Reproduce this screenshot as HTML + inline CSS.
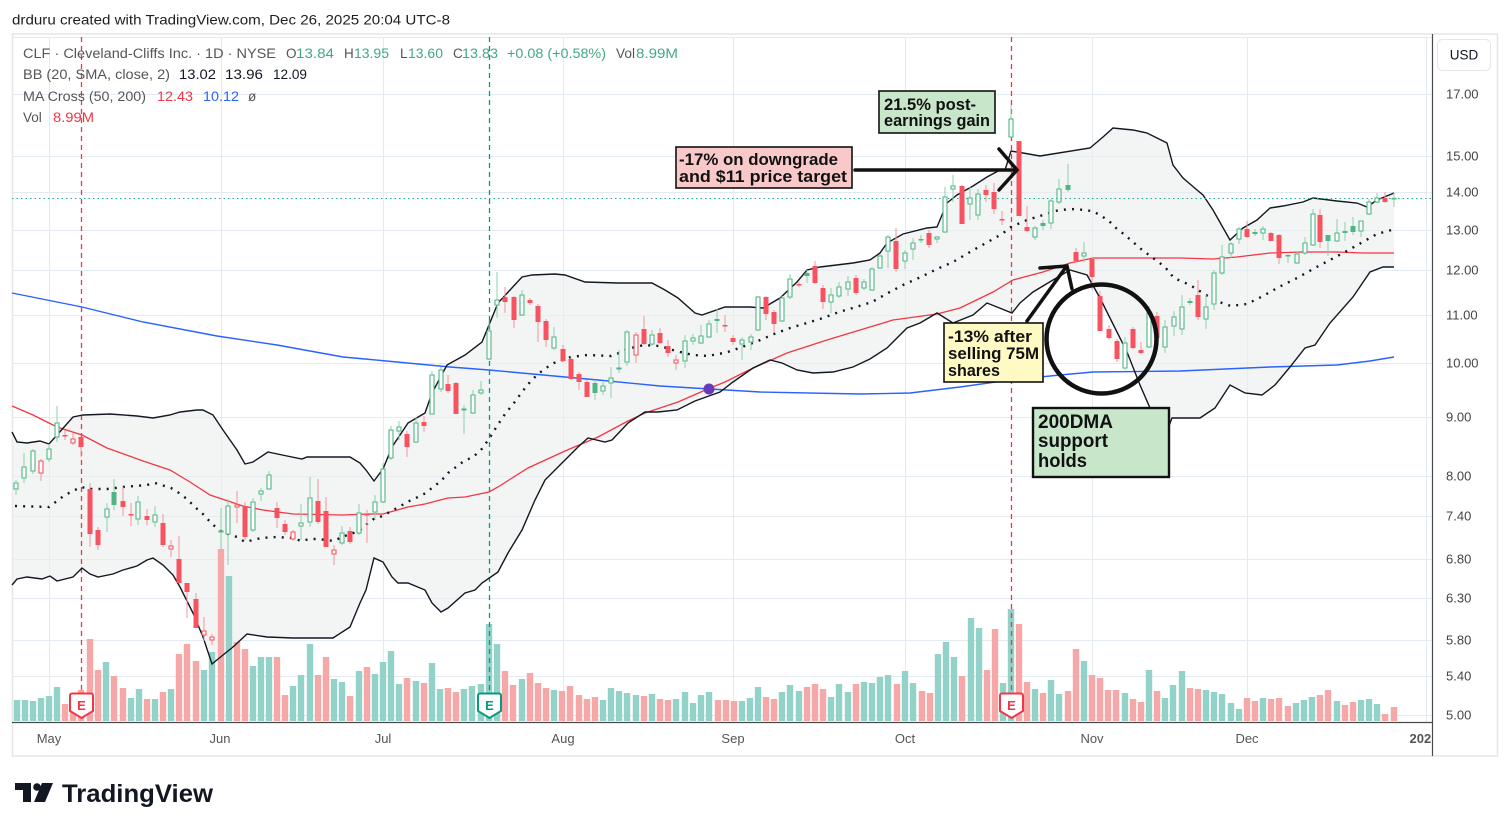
<!DOCTYPE html>
<html><head><meta charset="utf-8"><style>
html,body{margin:0;padding:0;background:#fff;width:1510px;height:831px;overflow:hidden}
svg{display:block}
text{font-family:"Liberation Sans",Arial,sans-serif}
</style></head><body>
<svg width="1510" height="831" viewBox="0 0 1510 831" xmlns="http://www.w3.org/2000/svg">
<defs><clipPath id="tc"><rect x="0" y="722" width="1431" height="40"/></clipPath></defs>
<rect x="0" y="0" width="1510" height="831" fill="#fff"/>
<!-- frame -->
<rect x="12.5" y="34" width="1485" height="722" fill="none" stroke="#e6e6e6" stroke-width="1.5"/>
<!-- grid -->
<g stroke="#e3eaf1" stroke-width="1">
<path d="M12 37.5H1432M12 94.5H1432M12 156.5H1432M12 192.5H1432M12 230.5H1432M12 270.5H1432M12 315.5H1432M12 363.5H1432M12 417.5H1432M12 476.5H1432M12 516.5H1432M12 559.5H1432M12 598.5H1432M12 640.5H1432M12 676.5H1432M12 715.5H1432"/>
<path d="M49.5 37V722M221.5 37V722M383.5 37V722M563.5 37V722M733.5 37V722M905.5 37V722M1092.5 37V722M1247.5 37V722M1426.5 37V722"/>
</g>
<!-- BB fill -->
<polygon fill="#e9eded" fill-opacity="0.55" points="12,432 17,442 27,443 40,441 49,444 57,435 73,417 83,415 110,414 137,416 153,418 170,415 180,412 197,410 203,410 213,415 223,430 237,450 245,464 253,462 268,452 287,456 302,459 307,457 350,457 360,463 366,470 374,481 383,469 392,447 408,423 425,413 432,393 447,365 465,355 482,342 498,303 522,277 532,275 555,274 565,275 585,282 618,283 652,283 665,290 678,298 695,313 702,315 725,307 750,307 763,308 780,298 797,282 807,270 820,267 853,263 870,260 880,253 887,243 903,234 927,228 937,227 947,203 957,195 973,186 987,177 1000,170 1005,170 1011,151 1023,153 1040,156 1090,148 1103,137 1113,128 1133,130 1147,133 1167,143 1173,165 1183,178 1197,190 1203,195 1213,210 1230,240 1243,228 1257,220 1270,208 1283,206 1303,202 1313,198 1337,201 1357,203 1367,207 1377,200 1394,193 1394,267 1383,267 1370,272 1353,297 1330,323 1315,345 1305,348 1290,367 1275,385 1262,395 1245,393 1230,385 1215,408 1200,418 1172,418 1167,431 1150,408 1140,385 1127,352 1100,298 1087,275 1070,270 1053,280 1033,292 1020,303 1012,313 997,307 987,303 973,315 953,323 937,313 920,323 907,328 887,348 870,359 853,367 833,372 813,373 797,370 782,363 770,360 753,368 733,382 720,392 695,401 677,410 658,412 645,412 628,423 612,440 605,442 588,438 578,447 565,460 545,480 535,500 522,530 508,553 498,572 482,583 475,590 465,593 448,608 441,612 432,603 425,590 408,583 398,583 392,577 383,562 374,558 366,590 360,603 350,627 333,638 293,638 267,637 247,634 233,647 223,655 212,664 203,637 193,613 180,587 173,575 163,565 153,558 147,560 137,566 123,570 113,574 98,577 90,574 82,568 73,577 57,581 50,576 42,579 27,577 17,579 12,585"/>
<!-- volume -->
<path fill="#92d2c9" d="M13.8 700h6.4V721h-6.4zM21.8 700h6.4V721h-6.4zM29.8 701h6.4V721h-6.4zM37.8 698h6.4V721h-6.4zM45.8 696h6.4V721h-6.4zM53.8 687h6.4V721h-6.4zM102.8 662h6.4V721h-6.4zM127.8 698h6.4V721h-6.4zM135.8 689h6.4V721h-6.4zM151.8 699h6.4V721h-6.4zM167.8 689h6.4V721h-6.4zM200.8 670h6.4V721h-6.4zM208.8 652h6.4V721h-6.4zM225.8 576h6.4V721h-6.4zM249.8 666h6.4V721h-6.4zM257.8 657h6.4V721h-6.4zM265.8 657h6.4V721h-6.4zM289.8 686h6.4V721h-6.4zM297.8 675h6.4V721h-6.4zM306.8 644h6.4V721h-6.4zM330.8 679h6.4V721h-6.4zM338.8 682h6.4V721h-6.4zM355.8 671h6.4V721h-6.4zM371.8 674h6.4V721h-6.4zM379.8 662h6.4V721h-6.4zM387.8 651h6.4V721h-6.4zM395.8 684h6.4V721h-6.4zM412.8 681h6.4V721h-6.4zM428.8 663h6.4V721h-6.4zM436.8 689h6.4V721h-6.4zM460.8 689h6.4V721h-6.4zM468.8 686h6.4V721h-6.4zM477.8 684h6.4V721h-6.4zM485.8 624h6.4V721h-6.4zM493.8 644h6.4V721h-6.4zM518.8 679h6.4V721h-6.4zM550.8 690h6.4V721h-6.4zM599.8 700h6.4V721h-6.4zM607.8 688h6.4V721h-6.4zM615.8 691h6.4V721h-6.4zM623.8 693h6.4V721h-6.4zM632.8 695h6.4V721h-6.4zM648.8 694h6.4V721h-6.4zM672.8 699h6.4V721h-6.4zM681.8 692h6.4V721h-6.4zM689.8 703h6.4V721h-6.4zM697.8 695h6.4V721h-6.4zM705.8 692h6.4V721h-6.4zM738.8 701h6.4V721h-6.4zM746.8 698h6.4V721h-6.4zM754.8 687h6.4V721h-6.4zM778.8 692h6.4V721h-6.4zM786.8 685h6.4V721h-6.4zM795.8 691h6.4V721h-6.4zM827.8 697h6.4V721h-6.4zM835.8 684h6.4V721h-6.4zM844.8 692h6.4V721h-6.4zM860.8 682h6.4V721h-6.4zM868.8 683h6.4V721h-6.4zM876.8 677h6.4V721h-6.4zM884.8 675h6.4V721h-6.4zM901.8 671h6.4V721h-6.4zM909.8 683h6.4V721h-6.4zM934.8 654h6.4V721h-6.4zM942.8 642h6.4V721h-6.4zM950.8 657h6.4V721h-6.4zM967.8 618h6.4V721h-6.4zM975.8 628h6.4V721h-6.4zM999.8 683h6.4V721h-6.4zM1007.8 609h6.4V721h-6.4zM1031.8 689h6.4V721h-6.4zM1047.8 680h6.4V721h-6.4zM1055.8 694h6.4V721h-6.4zM1080.8 661h6.4V721h-6.4zM1121.8 693h6.4V721h-6.4zM1145.8 670h6.4V721h-6.4zM1161.8 698h6.4V721h-6.4zM1169.8 685h6.4V721h-6.4zM1178.8 671h6.4V721h-6.4zM1202.8 690h6.4V721h-6.4zM1210.8 692h6.4V721h-6.4zM1218.8 694h6.4V721h-6.4zM1227.8 703h6.4V721h-6.4zM1235.8 709h6.4V721h-6.4zM1259.8 698h6.4V721h-6.4zM1292.8 703h6.4V721h-6.4zM1300.8 700h6.4V721h-6.4zM1308.8 697h6.4V721h-6.4zM1333.8 701h6.4V721h-6.4zM1357.8 700h6.4V721h-6.4zM1365.8 699h6.4V721h-6.4zM1373.8 704h6.4V721h-6.4z"/>
<path fill="#f6a8a8" d="M61.8 704h6.4V721h-6.4zM69.8 700h6.4V721h-6.4zM77.8 690h6.4V721h-6.4zM86.8 639h6.4V721h-6.4zM94.8 670h6.4V721h-6.4zM110.8 676h6.4V721h-6.4zM119.8 688h6.4V721h-6.4zM143.8 699h6.4V721h-6.4zM159.8 692h6.4V721h-6.4zM175.8 654h6.4V721h-6.4zM183.8 644h6.4V721h-6.4zM192.8 661h6.4V721h-6.4zM217.8 549h6.4V721h-6.4zM233.8 642h6.4V721h-6.4zM241.8 649h6.4V721h-6.4zM273.8 657h6.4V721h-6.4zM281.8 695h6.4V721h-6.4zM314.8 675h6.4V721h-6.4zM322.8 657h6.4V721h-6.4zM346.8 696h6.4V721h-6.4zM363.8 667h6.4V721h-6.4zM403.8 678h6.4V721h-6.4zM420.8 683h6.4V721h-6.4zM444.8 688h6.4V721h-6.4zM452.8 692h6.4V721h-6.4zM501.8 671h6.4V721h-6.4zM509.8 685h6.4V721h-6.4zM526.8 673h6.4V721h-6.4zM534.8 683h6.4V721h-6.4zM542.8 688h6.4V721h-6.4zM558.8 691h6.4V721h-6.4zM566.8 686h6.4V721h-6.4zM575.8 695h6.4V721h-6.4zM583.8 699h6.4V721h-6.4zM591.8 697h6.4V721h-6.4zM640.8 696h6.4V721h-6.4zM656.8 699h6.4V721h-6.4zM664.8 700h6.4V721h-6.4zM714.8 700h6.4V721h-6.4zM722.8 700h6.4V721h-6.4zM730.8 701h6.4V721h-6.4zM762.8 697h6.4V721h-6.4zM770.8 699h6.4V721h-6.4zM803.8 687h6.4V721h-6.4zM811.8 684h6.4V721h-6.4zM819.8 689h6.4V721h-6.4zM852.8 684h6.4V721h-6.4zM893.8 684h6.4V721h-6.4zM918.8 691h6.4V721h-6.4zM926.8 693h6.4V721h-6.4zM958.8 676h6.4V721h-6.4zM983.8 670h6.4V721h-6.4zM991.8 629h6.4V721h-6.4zM1015.8 624h6.4V721h-6.4zM1023.8 682h6.4V721h-6.4zM1039.8 693h6.4V721h-6.4zM1064.8 691h6.4V721h-6.4zM1072.8 649h6.4V721h-6.4zM1088.8 675h6.4V721h-6.4zM1096.8 678h6.4V721h-6.4zM1104.8 690h6.4V721h-6.4zM1112.8 690h6.4V721h-6.4zM1129.8 699h6.4V721h-6.4zM1137.8 702h6.4V721h-6.4zM1153.8 691h6.4V721h-6.4zM1186.8 688h6.4V721h-6.4zM1194.8 689h6.4V721h-6.4zM1243.8 698h6.4V721h-6.4zM1251.8 701h6.4V721h-6.4zM1267.8 699h6.4V721h-6.4zM1275.8 698h6.4V721h-6.4zM1284.8 706h6.4V721h-6.4zM1316.8 695h6.4V721h-6.4zM1324.8 690h6.4V721h-6.4zM1341.8 705h6.4V721h-6.4zM1349.8 702h6.4V721h-6.4zM1381.8 714h6.4V721h-6.4zM1390.8 707h6.4V721h-6.4z"/>
<!-- earnings dashed lines -->
<path d="M81.5 37V693" stroke="#f23645" stroke-width="1.3" stroke-dasharray="5 4"/>
<path d="M489.5 37V693" stroke="#089981" stroke-width="1.3" stroke-dasharray="5 4"/>
<path d="M1011.5 37V693" stroke="#f23645" stroke-width="1.3" stroke-dasharray="5 4"/>
<!-- MAs -->
<polyline fill="none" stroke="#2962ff" stroke-width="1.4" points="12,293 82,307 143,322 217,336 277,345 343,357 365,359 450,367 489,370 565,377 598,380 660,386 710,389 760,392 860,394 910,393 960,387 1010,380 1060,375 1093,372 1180,371 1203,370 1270,367 1337,365 1370,361 1394,357"/>
<polyline fill="none" stroke="#f23645" stroke-width="1.3" points="12,406 33,415 57,427 82,435 107,448 143,461 170,470 190,482 210,495 243,506 263,510 293,514 343,515 368,514 383,514 408,507 425,504 448,498 465,497 489,492 498,487 528,468 565,451 598,437 628,421 645,413 660,408 678,402 710,388 725,382 747,371 760,365 787,353 827,340 860,330 893,320 937,314 960,308 993,292 1013,280 1043,272 1070,263 1093,258 1180,258 1213,259 1237,257 1270,253 1303,252 1337,252 1363,253 1394,253"/>
<polyline fill="none" stroke="#131722" stroke-width="1.4" points="12,432 17,442 27,443 40,441 49,444 57,435 73,417 83,415 110,414 137,416 153,418 170,415 180,412 197,410 203,410 213,415 223,430 237,450 245,464 253,462 268,452 287,456 302,459 307,457 350,457 360,463 366,470 374,481 383,469 392,447 408,423 425,413 432,393 447,365 465,355 482,342 498,303 522,277 532,275 555,274 565,275 585,282 618,283 652,283 665,290 678,298 695,313 702,315 725,307 750,307 763,308 780,298 797,282 807,270 820,267 853,263 870,260 880,253 887,243 903,234 927,228 937,227 947,203 957,195 973,186 987,177 1000,170 1005,170 1011,151 1023,153 1040,156 1090,148 1103,137 1113,128 1133,130 1147,133 1167,143 1173,165 1183,178 1197,190 1203,195 1213,210 1230,240 1243,228 1257,220 1270,208 1283,206 1303,202 1313,198 1337,201 1357,203 1367,207 1377,200 1394,193"/>
<polyline fill="none" stroke="#131722" stroke-width="1.4" points="12,585 17,579 27,577 42,579 50,576 57,581 73,577 82,568 90,574 98,577 113,574 123,570 137,566 147,560 153,558 163,565 173,575 180,587 193,613 203,637 212,664 223,655 233,647 247,634 267,637 293,638 333,638 350,627 360,603 366,590 374,558 383,562 392,577 398,583 408,583 425,590 432,603 441,612 448,608 465,593 475,590 482,583 498,572 508,553 522,530 535,500 545,480 565,460 578,447 588,438 605,442 612,440 628,423 645,412 658,412 677,410 695,401 720,392 733,382 753,368 770,360 782,363 797,370 813,373 833,372 853,367 870,359 887,348 907,328 920,323 937,313 953,323 973,315 987,303 997,307 1012,313 1020,303 1033,292 1053,280 1070,270 1087,275 1100,298 1127,352 1140,385 1150,408 1167,431 1172,418 1200,418 1215,408 1230,385 1245,393 1262,395 1275,385 1290,367 1305,348 1315,345 1330,323 1353,297 1370,272 1383,267 1394,267"/>
<polyline fill="none" stroke="#131722" stroke-width="2.4" stroke-dasharray="2 6.15" points="15,506 49,507 57,501 65,495 73,491 81,487 90,489 107,489 123,487 147,485 155,483 171,488 179,493 187,499 196,508 204,515 212,524 221,531 228,534 237,537 245,542 261,538 277,537 293,538 301,541 310,539 318,539 334,541 342,537 359,531 367,524 375,518 383,516 391,511 399,507 407,502 416,498 424,494 432,488 441,481 448,473 456,467 464,461 473,457 481,450 489,439 497,426 505,414 514,403 522,392 530,382 538,374 546,368 554,363 571,357 587,355 611,356 619,353 627,349 644,345 660,346 676,351 693,355 709,356 717,354 725,353 742,347 758,341 774,334 790,328 807,323 823,318 839,312 856,307 872,302 888,293 905,284 921,277 937,269 953,262 970,252 986,243 1002,234 1011,227 1027,220 1043,215 1059,210 1076,209 1092,211 1100,215 1109,221 1117,229 1125,235 1133,242 1141,249 1149,255 1157,261 1165,267 1174,278 1190,285 1206,295 1222,303 1231,306 1247,304 1263,296 1279,287 1297,278 1313,269 1328,261 1345,252 1361,243 1377,234 1395,229"/>
<!-- current price line -->
<path d="M12 198.5H1432" stroke="#22ab94" stroke-width="1" stroke-dasharray="1.5 3"/>
<!-- wicks -->
<path fill="none" stroke="#8fd0ad" stroke-width="1" d="M16 480V495M24 453V483M33 449V474M49 444V462M57 406V442M107 503V532M114 479V510M138 496V525M155 506V527M221 508V550M228 499V565M253 498V532M261 488V501M269 471V490M301 504V540M310 477V527M342 526V545M359 504V535M375 495V520M383 463V503M391 426V460M399 421V440M416 417V443M432 371V414M441 367V392M464 405V434M473 390V414M481 381V395M489 320V360M497 272V318M522 290V316M554 327V350M595 380V400M603 382V395M611 367V398M619 350V373M627 330V366M652 330V346M685 335V368M693 334V345M701 325V344M709 320V338M717 309V333M742 337V360M751 334V350M758 296V331M782 296V322M790 274V299M807 270V283M831 288V313M839 282V298M848 276V296M864 279V290M872 267V291M880 254V269M888 235V268M905 250V269M913 238V260M921 235V243M937 236V243M945 187V233M953 175V202M970 187V220M978 189V220M1011 105V138M1035 226V240M1043 220V230M1051 199V229M1059 179V204M1068 164V192M1084 242V262M1125 337V370M1149 306V348M1165 320V353M1174 311V336M1182 295V335M1190 298V305M1206 295V329M1214 270V310M1222 245V275M1231 242V258M1239 227V244M1255 229V236M1263 226V240M1288 254V263M1297 252V264M1305 237V255M1313 209V246M1328 235V256M1337 219V242M1345 222V241M1353 217V235M1361 221V237M1369 199V215M1377 193V203M1394 193V207"/>
<path fill="none" stroke="#f5949c" stroke-width="1" d="M41 459V481M65 430V440M73 433V445M81 436V457M90 483V547M98 527V550M123 487V516M131 503V526M147 509V525M163 514V547M171 540V557M179 536V583M187 583V618M196 593V628M204 617V641M212 634V645M237 491V523M245 502V540M277 502V528M285 520V535M293 530V541M318 479V524M326 497V547M334 545V565M350 527V544M367 510V543M407 431V457M424 416V432M448 375V393M456 382V414M505 287V313M514 296V328M530 298V305M538 304V342M546 319V347M563 345V362M571 357V380M579 372V390M587 380V397M636 332V363M644 316V345M660 328V344M668 340V357M676 355V370M725 315V332M733 335V345M766 296V320M774 310V332M799 282V287M815 261V284M823 285V309M856 275V295M896 228V272M929 230V248M962 185V224M986 185V202M994 183V214M1002 211V225M1019 141V216M1027 206V232M1076 248V263M1092 258V290M1100 291V331M1109 325V340M1117 339V362M1133 327V349M1141 342V354M1157 312V344M1198 280V320M1247 221V238M1271 232V241M1279 234V264M1320 209V248M1385 192V203"/>
<!-- green hollow bodies -->
<path fill="#fff" stroke="#4fb584" stroke-width="1.1" d="M14,483h4v6h-4zM22,467h4v11h-4zM31,451h4v20h-4zM47,449h4v10h-4zM55,423h4v14h-4zM105,509h4v8h-4zM136,502h4v17h-4zM153,515h4v7h-4zM219,531h4v1h-4zM226,506h4v28h-4zM251,502h4v28h-4zM259,491h4v3h-4zM267,475h4v14h-4zM299,523h4v3h-4zM308,498h4v24h-4zM340,533h4v10h-4zM357,513h4v20h-4zM373,502h4v10h-4zM381,469h4v33h-4zM389,430h4v28h-4zM397,427h4v4h-4zM414,423h4v19h-4zM430,375h4v39h-4zM439,370h4v19h-4zM462,409h4v1h-4zM471,395h4v18h-4zM479,390h4v3h-4zM487,331h4v28h-4zM495,300h4v5h-4zM520,295h4v20h-4zM552,337h4v11h-4zM601,386h4v5h-4zM609,378h4v5h-4zM617,368h4v1h-4zM625,332h4v30h-4zM650,335h4v9h-4zM683,341h4v20h-4zM691,338h4v3h-4zM699,336h4v7h-4zM707,324h4v13h-4zM740,340h4v4h-4zM749,337h4v5h-4zM756,297h4v33h-4zM780,298h4v23h-4zM788,279h4v18h-4zM829,295h4v7h-4zM837,287h4v9h-4zM846,282h4v7h-4zM862,282h4v6h-4zM870,269h4v21h-4zM878,256h4v12h-4zM886,237h4v14h-4zM903,253h4v8h-4zM911,243h4v6h-4zM935,237h4v2h-4zM943,197h4v35h-4zM951,186h4v3h-4zM968,198h4v6h-4zM976,194h4v21h-4zM1009,119h4v18h-4zM1033,228h4v9h-4zM1049,201h4v22h-4zM1057,189h4v13h-4zM1082,253h4v3h-4zM1123,343h4v25h-4zM1147,313h4v34h-4zM1163,327h4v20h-4zM1172,317h4v9h-4zM1180,307h4v22h-4zM1204,307h4v12h-4zM1212,273h4v31h-4zM1220,257h4v16h-4zM1229,244h4v9h-4zM1237,229h4v10h-4zM1261,229h4v4h-4zM1295,254h4v9h-4zM1303,243h4v10h-4zM1311,214h4v31h-4zM1335,233h4v8h-4zM1359,221h4v10h-4zM1367,202h4v12h-4zM1375,198h4v4h-4z"/>
<!-- green filled bodies -->
<path fill="#4fb584" d="M111.5,492h5v13h-5zM592.5,383h5v10h-5zM714.5,319h5v2h-5zM804.5,273h5v3h-5zM918.5,239h5v1.5h-5zM1040.5,223h5v3h-5zM1065.5,185h5v5h-5zM1187.5,301h5v2h-5zM1252.5,232h5v2h-5zM1285.5,255h5v1.5h-5zM1325.5,235h5v6h-5zM1342.5,231h5v2h-5zM1350.5,226h5v6h-5zM1391.5,198h5v1.5h-5z"/>
<!-- red filled bodies -->
<path fill="#f7525f" d="M62.5,435h5v1.5h-5zM78.5,437h5v10h-5zM87.5,489h5v45h-5zM95.5,530h5v15h-5zM120.5,501h5v6h-5zM128.5,514h5v1.5h-5zM144.5,516h5v4h-5zM160.5,523h5v22h-5zM176.5,559h5v24h-5zM184.5,583h5v9h-5zM193.5,599h5v29h-5zM242.5,506h5v31h-5zM274.5,508h5v10h-5zM282.5,524h5v8h-5zM315.5,501h5v21h-5zM323.5,511h5v36h-5zM347.5,531h5v11h-5zM364.5,514h5v1.5h-5zM404.5,434h5v13h-5zM421.5,422h5v4h-5zM445.5,384h5v7h-5zM453.5,383h5v31h-5zM502.5,297h5v5h-5zM511.5,297h5v23h-5zM527.5,300h5v3h-5zM535.5,306h5v16h-5zM543.5,321h5v19h-5zM560.5,349h5v12h-5zM568.5,359h5v20h-5zM576.5,374h5v8h-5zM584.5,382h5v15h-5zM641.5,329h5v15h-5zM657.5,333h5v10h-5zM665.5,346h5v7h-5zM722.5,325h5v1.5h-5zM730.5,338h5v4h-5zM763.5,297h5v17h-5zM771.5,312h5v12h-5zM796.5,284h5v1.5h-5zM812.5,266h5v17h-5zM820.5,288h5v14h-5zM853.5,278h5v15h-5zM893.5,241h5v28h-5zM926.5,233h5v12h-5zM959.5,186h5v38h-5zM983.5,190h5v5h-5zM991.5,192h5v17h-5zM999.5,219h5v1.5h-5zM1016.5,141h5v75h-5zM1024.5,227h5v4h-5zM1073.5,252h5v9h-5zM1089.5,259h5v18h-5zM1097.5,296h5v35h-5zM1106.5,329h5v9h-5zM1114.5,341h5v18h-5zM1130.5,329h5v19h-5zM1138.5,350h5v3h-5zM1154.5,316h5v22h-5zM1195.5,295h5v22h-5zM1244.5,229h5v8h-5zM1268.5,233h5v8h-5zM1276.5,235h5v23h-5zM1317.5,215h5v27h-5zM1382.5,198h5v4h-5z"/>
<!-- red hollow bodies -->
<path fill="#fff" stroke="#f7525f" stroke-width="1.1" d="M39,461h4v12h-4zM71,439h4v4h-4zM169,546h4v3h-4zM202,631h4v4h-4zM210,637h4v3h-4zM235,505h4v2h-4zM291,532h4v7h-4zM332,550h4v4h-4zM634,335h4v20h-4zM674,360h4v3h-4z"/>
<!-- golden cross dot -->
<circle cx="709" cy="389" r="5.5" fill="#673ab7"/>
<!-- E markers -->
<g stroke-width="2" fill="#fff">
<path stroke="#f23645" d="M72 693.5h19a2 2 0 0 1 2 2v15.5l-11.5 7l-11.5-7v-15.5a2 2 0 0 1 2-2z"/>
<path stroke="#089981" d="M480 693.5h19a2 2 0 0 1 2 2v15.5l-11.5 7l-11.5-7v-15.5a2 2 0 0 1 2-2z"/>
<path stroke="#f23645" d="M1002 693.5h19a2 2 0 0 1 2 2v15.5l-11.5 7l-11.5-7v-15.5a2 2 0 0 1 2-2z"/>
</g>
<g font-size="13" font-weight="bold" text-anchor="middle">
<text x="81.5" y="710" fill="#f23645">E</text>
<text x="489.5" y="710" fill="#089981">E</text>
<text x="1011.5" y="710" fill="#f23645">E</text>
</g>
<!-- axes -->
<path d="M12 722.5H1432" stroke="#4a4a4a" stroke-width="1.2"/>
<path d="M1432.5 34V756" stroke="#4a4a4a" stroke-width="1.2"/>
<rect x="1437.5" y="39.5" width="53" height="31" rx="5" fill="#fff" stroke="#e6e6e6"/>
<text x="1464" y="59.5" font-size="13.5" fill="#131722" text-anchor="middle">USD</text>
<g font-size="13" fill="#444">
<text x="1446" y="98.5">17.00</text>
<text x="1446" y="160.5">15.00</text>
<text x="1446" y="196.5">14.00</text>
<text x="1446" y="234.5">13.00</text>
<text x="1446" y="274.5">12.00</text>
<text x="1446" y="319.5">11.00</text>
<text x="1446" y="367.5">10.00</text>
<text x="1446" y="421.5">9.00</text>
<text x="1446" y="480.5">8.00</text>
<text x="1446" y="520.5">7.40</text>
<text x="1446" y="563.5">6.80</text>
<text x="1446" y="602.5">6.30</text>
<text x="1446" y="644.5">5.80</text>
<text x="1446" y="680.5">5.40</text>
<text x="1446" y="719.5">5.00</text>
</g>
<g font-size="13" fill="#555" text-anchor="middle">
<text x="49" y="743">May</text>
<text x="220" y="743">Jun</text>
<text x="383" y="743">Jul</text>
<text x="563" y="743">Aug</text>
<text x="733" y="743">Sep</text>
<text x="905" y="743">Oct</text>
<text x="1092" y="743">Nov</text>
<text x="1247" y="743">Dec</text>
<text x="1424" y="743" clip-path="url(#tc)" font-weight="bold">2026</text>
</g>
<!-- annotations -->
<g stroke="#111" stroke-width="3.5" fill="none" stroke-linecap="round">
<path d="M855 170H1015"/>
<path d="M999 149L1017 170L999 190"/>
<path d="M1027 321L1066 267"/>
<path d="M1040 268L1067 266L1072 289"/>
</g>
<ellipse cx="1101.5" cy="339" rx="55" ry="54.5" fill="none" stroke="#111" stroke-width="4.5"/>
<rect x="676" y="147" width="176" height="41" fill="#f9c9c9" stroke="#111" stroke-width="1.6"/>
<rect x="879" y="91" width="116" height="42" fill="#c8e6c9" stroke="#111" stroke-width="1.6"/>
<rect x="944" y="323" width="99" height="59" fill="#fff9c4" stroke="#111" stroke-width="1.6"/>
<rect x="1033" y="408" width="136" height="69" fill="#c8e6c9" stroke="#111" stroke-width="2.4"/>
<g font-weight="bold" fill="#111">
<text x="679" y="165" font-size="17" textLength="159" lengthAdjust="spacingAndGlyphs">-17% on downgrade</text>
<text x="679" y="182" font-size="17" textLength="168" lengthAdjust="spacingAndGlyphs">and $11 price target</text>
<text x="884" y="110" font-size="16.5" textLength="92" lengthAdjust="spacingAndGlyphs">21.5% post-</text>
<text x="884" y="126" font-size="16.5" textLength="106" lengthAdjust="spacingAndGlyphs">earnings gain</text>
<text x="948" y="342" font-size="17" textLength="84" lengthAdjust="spacingAndGlyphs">-13% after</text>
<text x="948" y="359" font-size="17" textLength="91" lengthAdjust="spacingAndGlyphs">selling 75M</text>
<text x="948" y="376" font-size="17" textLength="52" lengthAdjust="spacingAndGlyphs">shares</text>
<text x="1038" y="428" font-size="19" textLength="75" lengthAdjust="spacingAndGlyphs">200DMA</text>
<text x="1038" y="447" font-size="19" textLength="70" lengthAdjust="spacingAndGlyphs">support</text>
<text x="1038" y="467" font-size="19" textLength="49" lengthAdjust="spacingAndGlyphs">holds</text>
</g>
<!-- header -->
<text x="12" y="24.5" font-size="14" fill="#1e1e1e" textLength="438" lengthAdjust="spacingAndGlyphs">drduru created with TradingView.com, Dec 26, 2025 20:04 UTC-8</text>
<g font-size="13.5">
<text x="23" y="58" fill="#555" textLength="253" lengthAdjust="spacingAndGlyphs">CLF · Cleveland-Cliffs Inc. · 1D · NYSE</text>
<text x="286" y="58" fill="#555">O</text><text x="296" y="58" fill="#43a880" textLength="38" lengthAdjust="spacingAndGlyphs">13.84</text>
<text x="344" y="58" fill="#555">H</text><text x="354" y="58" fill="#43a880" textLength="35" lengthAdjust="spacingAndGlyphs">13.95</text>
<text x="400" y="58" fill="#555">L</text><text x="408" y="58" fill="#43a880" textLength="35" lengthAdjust="spacingAndGlyphs">13.60</text>
<text x="453" y="58" fill="#555">C</text><text x="462" y="58" fill="#43a880" textLength="36" lengthAdjust="spacingAndGlyphs">13.83</text>
<text x="507" y="58" fill="#43a880" textLength="99" lengthAdjust="spacingAndGlyphs">+0.08 (+0.58%)</text>
<text x="616" y="58" fill="#555" textLength="19" lengthAdjust="spacingAndGlyphs">Vol</text><text x="636" y="58" fill="#43a880" textLength="42" lengthAdjust="spacingAndGlyphs">8.99M</text>
<text x="23" y="79" fill="#555" textLength="147" lengthAdjust="spacingAndGlyphs">BB (20, SMA, close, 2)</text>
<text x="179" y="79" fill="#131722" textLength="37" lengthAdjust="spacingAndGlyphs">13.02</text>
<text x="225" y="79" fill="#131722" textLength="38" lengthAdjust="spacingAndGlyphs">13.96</text>
<text x="273" y="79" fill="#131722" textLength="34" lengthAdjust="spacingAndGlyphs">12.09</text>
<text x="23" y="101" fill="#555" textLength="123" lengthAdjust="spacingAndGlyphs">MA Cross (50, 200)</text>
<text x="157" y="101" fill="#f23645" textLength="36" lengthAdjust="spacingAndGlyphs">12.43</text>
<text x="203" y="101" fill="#2962ff" textLength="36" lengthAdjust="spacingAndGlyphs">10.12</text>
<text x="248" y="101" fill="#555">ø</text>
<text x="23" y="122" fill="#555">Vol</text>
<text x="53" y="122" fill="#f23645" textLength="41" lengthAdjust="spacingAndGlyphs">8.99M</text>
</g>
<!-- TradingView logo -->
<g fill="#131722">
<path d="M15 783h16v19h-8v-12h-8z"/>
<circle cx="37" cy="787" r="3.8"/>
<polygon points="42,783 53,783 45,802 34,802"/>
<text x="62" y="802" font-size="25" font-weight="bold" textLength="151" lengthAdjust="spacingAndGlyphs">TradingView</text>
</g>
</svg>
</body></html>
